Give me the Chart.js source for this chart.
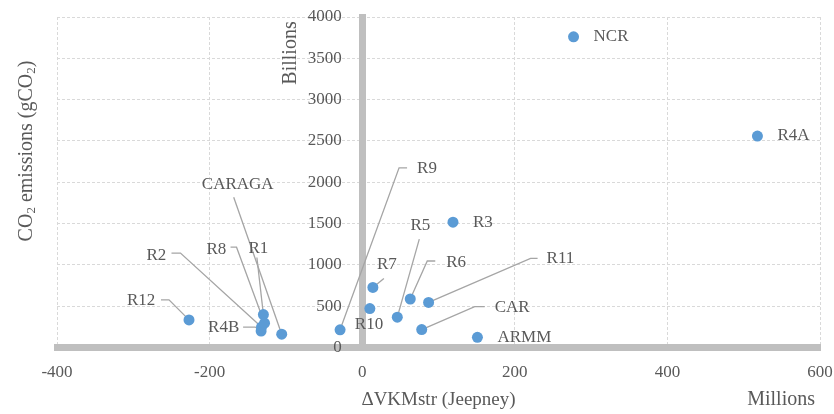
<!DOCTYPE html>
<html>
<head>
<meta charset="utf-8">
<script src="https://cdn.jsdelivr.net/npm/chart.js@4.4.1/dist/chart.umd.min.js"></script>
<style>
  html, body { margin: 0; padding: 0; background: #fff; }
</style>
</head>
<body>
<canvas id="myChart" width="834" height="414"></canvas>
<script>
// Regions, values
const regions = ['NCR', 'CAR', 'R1', 'R2', 'R3', 'R4A', 'R4B', 'R5', 'R6', 'R7', 'R8', 'R9', 'R10', 'R11', 'R12', 'CARAGA', 'ARMM'];
// ΔVKMstr (Jeepney), millions
const deltaVkm = [277, 78, -129.5, -132, 119, 518, -132.5, 46, 63, 14, -128, -29, 10, 87, -227, -105.5, 151];
// CO2 emissions (gCO2), billions
const emissions = [3760, 218, 400, 248, 1517, 2560, 200, 368, 588, 728, 295, 215, 472, 547, 335, 162, 125];

const xTicks = [-400, -200, 0, 200, 400, 600];
const yTicks = [0, 500, 1000, 1500, 2000, 2500, 3000, 3500, 4000];

// label placement, pixel offsets from the marker (text anchor + leader line elbows)
const labelPlace = {
    NCR:    { dx: 20, dy: 0 },
    R4A:    { dx: 20, dy: 0 },
    R3:     { dx: 20, dy: 0 },
    ARMM:   { dx: 20, dy: 0 },
    R10:    { dx: -15, dy: 16 },
    R11:    { dx: 118, dy: -44, leader: [[102, -44], [109, -44]] },
    CAR:    { dx: 73, dy: -22, leader: [[53, -23], [63, -23]] },
    R6:     { dx: 36, dy: -36, leader: [[17, -38], [25, -38]] },
    R5:     { dx: 23, dy: -92, align: 'center', leader: [[22, -78]] },
    R7:     { dx: 14, dy: -23, align: 'center', leader: [[11, -9]] },
    R9:     { dx: 77, dy: -161, leader: [[59, -162], [67, -162]] },
    CARAGA: { dx: -44, dy: -150, align: 'center', leader: [[-48, -137]] },
    R12:    { dx: -62, dy: -19, leader: [[-20, -20], [-28, -20]] },
    R2:     { dx: -115, dy: -72, leader: [[-81, -74], [-90, -74]] },
    R8:     { dx: -58, dy: -74, leader: [[-28, -76], [-34, -76]] },
    R1:     { dx: -15, dy: -66, leader: [[-6.5, -57]] },
    R4B:    { dx: -53, dy: -4, leader: [[-6, -4], [-18, -4]] }
};

const FONT = 'Liberation Serif';
const TEXT = '#595959';

// draw a run of text pieces, some as subscripts, centred on (0,0)
function drawRich(ctx, parts, size) {
    const widths = parts.map(([t, sub]) => {
        ctx.font = (sub ? size * 0.65 : size) + 'px "' + FONT + '"';
        return ctx.measureText(t).width;
    });
    let x = -widths.reduce((a, b) => a + b, 0) / 2;
    parts.forEach(([t, sub], i) => {
        ctx.font = (sub ? size * 0.65 : size) + 'px "' + FONT + '"';
        ctx.fillText(t, x, sub ? size * 0.22 : 0);
        x += widths[i];
    });
}

const labelPlugin = {
    id: 'regionLabels',
    beforeDatasetsDraw(chart) {
        const ctx = chart.ctx;
        const meta = chart.getDatasetMeta(0);
        ctx.save();
        ctx.strokeStyle = '#a5a5a5';
        ctx.lineWidth = 1.3;
        meta.data.forEach((pt, i) => {
            const p = labelPlace[regions[i]];
            if (!p.leader) return;
            ctx.beginPath();
            ctx.moveTo(pt.x, pt.y);
            p.leader.forEach(([dx, dy]) => ctx.lineTo(pt.x + dx, pt.y + dy));
            ctx.stroke();
        });
        ctx.restore();
    },
    afterDatasetsDraw(chart) {
        const ctx = chart.ctx;
        const meta = chart.getDatasetMeta(0);
        ctx.save();
        ctx.fillStyle = TEXT;
        ctx.font = '17px "' + FONT + '"';
        ctx.textBaseline = 'middle';
        meta.data.forEach((pt, i) => {
            const p = labelPlace[regions[i]];
            ctx.textAlign = p.align || 'left';
            ctx.fillText(regions[i], pt.x + p.dx, pt.y + p.dy);
        });
        ctx.restore();
    },
    afterDraw(chart) {
        const ctx = chart.ctx;
        const area = chart.chartArea;
        const zeroX = chart.scales.x.getPixelForValue(0);
        ctx.save();
        ctx.fillStyle = TEXT;
        ctx.textBaseline = 'middle';
        ctx.textAlign = 'left';

        // y title
        ctx.save();
        ctx.translate(27, area.top + 134);
        ctx.rotate(-Math.PI / 2);
        drawRich(ctx, [['CO', false], ['2', true], [' emissions (gCO', false], ['2', true], [')', false]], 20);
        ctx.restore();

        // units above the centre axis
        ctx.save();
        ctx.translate(zeroX - 71, area.top + 36);
        ctx.rotate(-Math.PI / 2);
        drawRich(ctx, [['Billions', false]], 20);
        ctx.restore();

        // x title and units
        ctx.save();
        ctx.translate((area.left + area.right) / 2, 400);
        drawRich(ctx, [['\u0394VKMstr (Jeepney)', false]], 19);
        ctx.restore();

        ctx.font = '20px "' + FONT + '"';
        ctx.textAlign = 'right';
        ctx.fillText('Millions', area.right - 5, 400);
        ctx.restore();
    }
};

document.addEventListener('DOMContentLoaded', function () {
    const ctx = document.getElementById('myChart').getContext('2d');
    const hideZero = c => (c.tick && c.tick.value === 0) ? 'rgba(0,0,0,0)' : '#d9d9d9';

    new Chart(ctx, {
        type: 'scatter',
        data: {
            datasets: [{
                label: 'Regions',
                data: deltaVkm.map((x, i) => ({ x: x, y: emissions[i] })),
                backgroundColor: '#5b9bd5',
                borderWidth: 0,
                pointRadius: 5.5,
                pointHoverRadius: 5.5
            }]
        },
        options: {
            responsive: false,
            animation: false,
            layout: { padding: { left: 57, right: 14, top: 17, bottom: 30 } },
            plugins: {
                legend: { display: false },
                tooltip: { enabled: false }
            },
            scales: {
                x: {
                    type: 'linear',
                    min: -400,
                    max: 600,
                    afterBuildTicks: axis => { axis.ticks = xTicks.map(v => ({ value: v })); },
                    ticks: {
                        color: TEXT,
                        font: { family: FONT, size: 17 },
                        padding: 1,
                        callback: v => String(v)
                    },
                    grid: { color: hideZero, lineWidth: 1, drawTicks: true, tickLength: 14, tickColor: 'rgba(0,0,0,0)' },
                    border: { display: true, color: '#bfbfbf', width: 7, dash: [3, 2] }
                },
                y: {
                    type: 'linear',
                    position: { x: 0 },
                    min: 0,
                    max: 4000,
                    afterBuildTicks: axis => { axis.ticks = yTicks.map(v => ({ value: v })); },
                    ticks: {
                        color: TEXT,
                        font: { family: FONT, size: 17 },
                        padding: 0,
                        // labels sit right against the centred axis, keep a gap
                        callback: v => String(v) + '\u2003\u2009'
                    },
                    grid: { color: hideZero, lineWidth: 1, drawTicks: false },
                    border: { display: true, color: '#bfbfbf', width: 7, dash: [3, 2] }
                }
            }
        },
        plugins: [labelPlugin]
    });
});
</script>
</body>
</html>
